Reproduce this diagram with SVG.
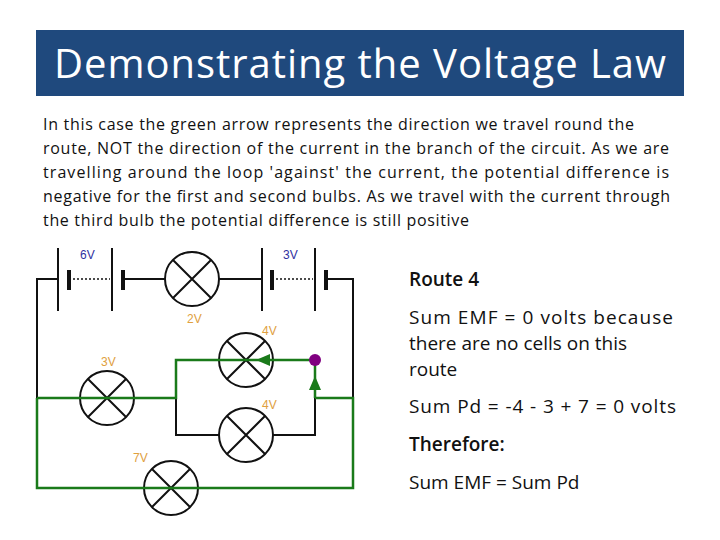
<svg xmlns="http://www.w3.org/2000/svg" width="720" height="540" viewBox="0 0 720 540">
<style>
.b{font-family:"Open Sans","DejaVu Sans",sans-serif;font-size:16px;fill:#111}
.r{font-family:"Open Sans","DejaVu Sans",sans-serif;font-size:19px;fill:#111}
.w{stroke:#111;stroke-width:2;fill:none}
.g{stroke:#1a7a1a;stroke-width:2.5;fill:none}
.lamp{stroke:#111;stroke-width:2;fill:#fff}
.vo{font-family:"Liberation Sans",Arial,sans-serif;font-size:12px;fill:#e0a040}
.vb{font-family:"Liberation Sans",Arial,sans-serif;font-size:12px;fill:#3030a0}
</style>
<defs>
<g id="lampsym"><circle r="27" class="lamp"/><path d="M-19,-19L19,19M19,-19L-19,19" class="w"/></g>
</defs>
<rect x="36" y="30" width="648" height="66" fill="#1f497d"/>
<text x="360" y="78" text-anchor="middle" font-family="'Open Sans','DejaVu Sans',sans-serif" font-size="40" fill="#fff" textLength="612">Demonstrating the Voltage Law</text>
<g class="b">
<text x="43" y="130" textLength="591">In this case the green arrow represents the direction we travel round the</text>
<text x="43" y="154" textLength="626">route, NOT the direction of the current in the branch of the circuit. As we are</text>
<text x="43" y="178" textLength="626">travelling around the loop 'against' the current, the potential difference is</text>
<text x="43" y="202" textLength="627">negative for the first and second bulbs. As we travel with the current through</text>
<text x="43" y="226" textLength="426">the third bulb the potential difference is still positive</text>
</g>
<g class="r">
<text x="409" y="286" font-weight="600">Route 4</text>
<text x="409" y="324" textLength="264">Sum EMF = 0 volts because</text>
<text x="409" y="350">there are no cells on this</text>
<text x="409" y="376">route</text>
<text x="409" y="413" textLength="267">Sum Pd = -4 - 3 + 7 = 0 volts</text>
<text x="409" y="451" font-weight="600">Therefore:</text>
<text x="409" y="489">Sum EMF = Sum Pd</text>
</g>
<g id="bulb2"><use href="#lampsym" x="192" y="279"/></g>
<g id="bulb3"><use href="#lampsym" x="107" y="398"/></g>
<g id="bulb4a"><use href="#lampsym" x="246" y="360"/></g>
<g id="bulb4b"><use href="#lampsym" x="246" y="435"/></g>
<g id="bulb7"><use href="#lampsym" x="171" y="488"/></g>
<g id="connectors">
<path class="w" d="M37,398V279H58M123,279H165M219,279H262M326,279H353V398" stroke="#555"/>
<path class="w" d="M58,248V311M112,248V311M262,248V311M315,248V311"/>
<path d="M69,270V290M123,270V290M272,270V290M326,270V290" stroke="#111" stroke-width="4"/>
<path d="M73,279H110M276,279H313" stroke="#111" stroke-width="1.5" stroke-dasharray="2,2"/>
<path class="w" d="M176,398V435H219M273,435H315V398"/>
<path class="g" d="M37,398V488H353V398H315M37,398H176V360H315V398"/>
<path d="M270,354L256,360L270,366Z M309,390L315,376L321,390Z" fill="#1a7a1a"/>
<circle cx="315" cy="360" r="6" fill="#800080"/>
</g>
<text class="vb" x="80" y="259">6V</text>
<text class="vb" x="283" y="259">3V</text>
<text class="vo" x="187" y="323">2V</text>
<text class="vo" x="101" y="366">3V</text>
<text class="vo" x="262" y="335">4V</text>
<text class="vo" x="262" y="409">4V</text>
<text class="vo" x="133" y="462">7V</text>
</svg>
